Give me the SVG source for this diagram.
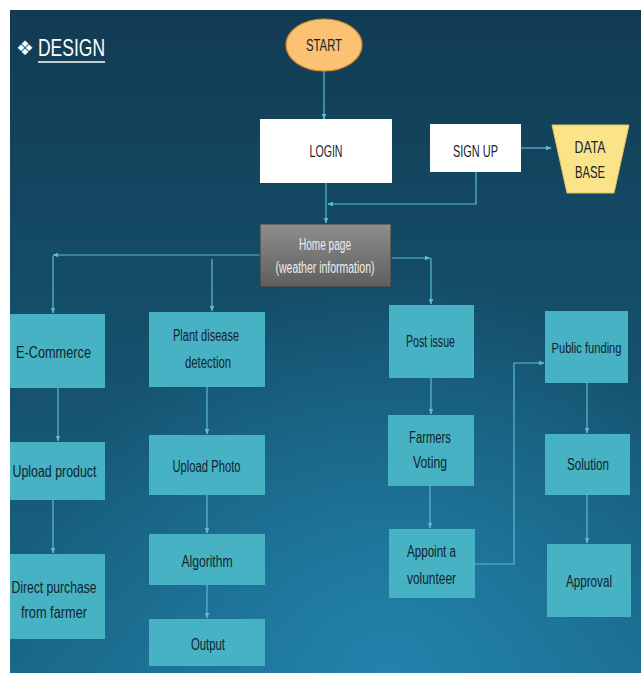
<svg xmlns="http://www.w3.org/2000/svg" width="641" height="673" viewBox="0 0 641 673">
<defs>
<linearGradient id="bg" x1="0" y1="0" x2="0" y2="1">
<stop offset="0" stop-color="#123b53"/>
<stop offset="0.6" stop-color="#155470"/>
<stop offset="1" stop-color="#1a6889"/>
</linearGradient>
<radialGradient id="glow" cx="0.6" cy="1" r="0.6">
<stop offset="0" stop-color="#2387b2" stop-opacity="0.85"/>
<stop offset="1" stop-color="#2387b2" stop-opacity="0"/>
</radialGradient>
<linearGradient id="gray" x1="0" y1="0" x2="0" y2="1">
<stop offset="0" stop-color="#8e8e8e"/>
<stop offset="1" stop-color="#5e5e5e"/>
</linearGradient>
<marker id="ar" viewBox="0 0 10 10" refX="9" refY="5" markerWidth="5" markerHeight="5" orient="auto">
<path d="M0,1 L10,5 L0,9 z" fill="#5bbdd0"/>
</marker>
<style>
.n{fill:#46b2c3;}
.t{font-family:"Liberation Sans",Arial,sans-serif;font-size:16px;fill:#13242e;text-anchor:middle;}
.w{fill:#ffffff;}
.c{fill:none;stroke:#5bbdd0;stroke-width:1.2;}
.a{marker-end:url(#ar);}
</style>
</defs>
<rect x="0" y="0" width="641" height="673" fill="#ffffff"/>
<rect x="10" y="10" width="631" height="663" fill="url(#bg)"/>
<rect x="10" y="10" width="631" height="663" fill="url(#glow)"/>

<g id="title">
<text x="16" y="55" font-family="DejaVu Sans,sans-serif" font-size="20" fill="#ffffff">❖</text>
<text x="38" y="56" font-family="Liberation Sans,Arial,sans-serif" font-size="24" fill="#ffffff" textLength="67" lengthAdjust="spacingAndGlyphs">DESIGN</text>
<line x1="38" y1="62" x2="105" y2="62" stroke="#ffffff" stroke-width="1.5"/>
</g>

<g id="connectors">
<line class="c a" x1="324" y1="71" x2="324" y2="119"/>
<line class="c a" x1="326" y1="183" x2="326" y2="223"/>
<polyline class="c a" points="476,172 476,204 328,204"/>
<line class="c a" x1="521" y1="148" x2="551" y2="148"/>
<line class="c a" x1="260" y1="255" x2="53" y2="255"/>
<line class="c a" x1="53" y1="256" x2="53" y2="313"/>
<line class="c a" x1="212" y1="259" x2="212" y2="311"/>
<line class="c a" x1="391" y1="258" x2="430" y2="258"/>
<line class="c a" x1="431" y1="258" x2="431" y2="304"/>
<line class="c a" x1="58" y1="388" x2="58" y2="441"/>
<line class="c a" x1="53" y1="500" x2="53" y2="553"/>
<line class="c a" x1="207" y1="387" x2="207" y2="434"/>
<line class="c a" x1="207" y1="495" x2="207" y2="533"/>
<line class="c a" x1="207" y1="585" x2="207" y2="618"/>
<line class="c a" x1="431" y1="378" x2="431" y2="414"/>
<line class="c a" x1="430" y1="486" x2="430" y2="528"/>
<polyline class="c a" points="475,564 514,564 514,363 544,363"/>
<line class="c a" x1="587" y1="383" x2="587" y2="433"/>
<line class="c a" x1="587" y1="495" x2="587" y2="543"/>
</g>

<g id="start">
<ellipse cx="324" cy="45" rx="38" ry="26" fill="#fcc274" stroke="#d08a2c" stroke-width="1.2"/>
<text class="t" x="324" y="51" textLength="36" lengthAdjust="spacingAndGlyphs">START</text>
</g>
<g id="login">
<rect class="w" x="260" y="119" width="132" height="64"/>
<text class="t" x="326" y="157" textLength="33" lengthAdjust="spacingAndGlyphs">LOGIN</text>
</g>
<g id="signup">
<rect class="w" x="430" y="124" width="91" height="48"/>
<text class="t" x="475.5" y="157" style="font-size:17px" textLength="45" lengthAdjust="spacingAndGlyphs">SIGN UP</text>
</g>
<g id="database">
<polygon points="552,125 629,125 614,193 567,193" fill="#fbe38a" stroke="#e0c25a" stroke-width="1"/>
<text class="t" x="590" y="153" style="font-size:17px" textLength="31" lengthAdjust="spacingAndGlyphs">DATA</text>
<text class="t" x="590" y="178" style="font-size:17px" textLength="30" lengthAdjust="spacingAndGlyphs">BASE</text>
</g>
<g id="home">
<rect x="260" y="224" width="131" height="63" fill="url(#gray)" stroke="#3c3c3c" stroke-width="1"/>
<text class="t" x="325" y="250" style="fill:#eeeeee" textLength="52" lengthAdjust="spacingAndGlyphs">Home page</text>
<text class="t" x="325" y="273" style="fill:#eeeeee" textLength="99" lengthAdjust="spacingAndGlyphs">(weather information)</text>
</g>
<g id="ecommerce">
<rect class="n" x="10" y="314" width="95" height="74"/>
<text class="t" x="53.5" y="358" textLength="75" lengthAdjust="spacingAndGlyphs">E-Commerce</text>
</g>
<g id="plant">
<rect class="n" x="149" y="312" width="116" height="75"/>
<text class="t" x="206" y="341" textLength="66" lengthAdjust="spacingAndGlyphs">Plant disease</text>
<text class="t" x="208" y="368" textLength="46" lengthAdjust="spacingAndGlyphs">detection</text>
</g>
<g id="postissue">
<rect class="n" x="389" y="305" width="85" height="73"/>
<text class="t" x="430.5" y="347" textLength="49" lengthAdjust="spacingAndGlyphs">Post issue</text>
</g>
<g id="publicfunding">
<rect class="n" x="545" y="311" width="83" height="72"/>
<text class="t" x="586.5" y="353" style="font-size:15px" textLength="70" lengthAdjust="spacingAndGlyphs">Public funding</text>
</g>
<g id="uploadproduct">
<rect class="n" x="10" y="442" width="95" height="58"/>
<text class="t" x="54.5" y="477" textLength="84" lengthAdjust="spacingAndGlyphs">Upload product</text>
</g>
<g id="uploadphoto">
<rect class="n" x="149" y="435" width="116" height="60"/>
<text class="t" x="206.5" y="472" textLength="68" lengthAdjust="spacingAndGlyphs">Upload Photo</text>
</g>
<g id="farmers">
<rect class="n" x="388" y="415" width="86" height="71"/>
<text class="t" x="430" y="443" textLength="42" lengthAdjust="spacingAndGlyphs">Farmers</text>
<text class="t" x="430" y="468" textLength="34" lengthAdjust="spacingAndGlyphs">Voting</text>
</g>
<g id="solution">
<rect class="n" x="545" y="434" width="85" height="61"/>
<text class="t" x="588" y="470" textLength="42" lengthAdjust="spacingAndGlyphs">Solution</text>
</g>
<g id="direct">
<rect class="n" x="10" y="554" width="95" height="85"/>
<text class="t" x="54" y="593" textLength="85" lengthAdjust="spacingAndGlyphs">Direct purchase</text>
<text class="t" x="54" y="618" textLength="66" lengthAdjust="spacingAndGlyphs">from farmer</text>
</g>
<g id="algorithm">
<rect class="n" x="149" y="534" width="116" height="51"/>
<text class="t" x="207" y="567" textLength="51" lengthAdjust="spacingAndGlyphs">Algorithm</text>
</g>
<g id="output">
<rect class="n" x="149" y="619" width="116" height="47"/>
<text class="t" x="208" y="650" textLength="34" lengthAdjust="spacingAndGlyphs">Output</text>
</g>
<g id="appoint">
<rect class="n" x="389" y="529" width="86" height="69"/>
<text class="t" x="431.5" y="557" textLength="49" lengthAdjust="spacingAndGlyphs">Appoint a</text>
<text class="t" x="431.5" y="584" textLength="49" lengthAdjust="spacingAndGlyphs">volunteer</text>
</g>
<g id="approval">
<rect class="n" x="547" y="544" width="84" height="73"/>
<text class="t" x="589" y="587" textLength="46" lengthAdjust="spacingAndGlyphs">Approval</text>
</g>
</svg>
